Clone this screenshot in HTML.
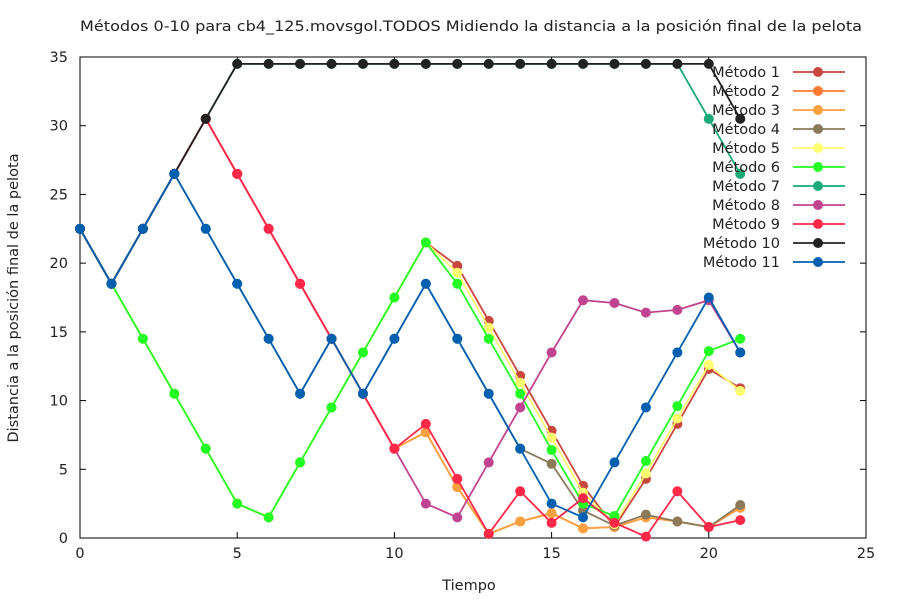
<!DOCTYPE html>
<html><head><meta charset="utf-8"><style>
body{margin:0;background:#fff;}
svg text{font-family:"DejaVu Sans","Liberation Sans",sans-serif;font-size:14.5px;fill:#222;}
</style></head><body>
<svg id="c" width="900" height="600" xmlns="http://www.w3.org/2000/svg">
<text x="471" y="31" text-anchor="middle" textLength="782" lengthAdjust="spacingAndGlyphs">Métodos 0-10 para cb4_125.movsgol.TODOS Midiendo la distancia a la posición final de la pelota</text>
<text x="469" y="590" text-anchor="middle">Tiempo</text>
<text transform="translate(18,298) rotate(-90)" text-anchor="middle">Distancia a la posición final de la pelota</text>
<rect x="80" y="57" width="786" height="481" fill="none" stroke="#000" stroke-width="1"/>
<g id="axes"></g><g id="series"></g><g id="legend"></g>
</svg>
<script>
const xTicks=[0,5,10,15,20,25];
const yTicks=[0,5,10,15,20,25,30,35];
const names=["Método 1","Método 2","Método 3","Método 4","Método 5","Método 6","Método 7","Método 8","Método 9","Método 10","Método 11"];
const colors=["#c8473f","#ff7a30","#ffa040","#8b7a5a","#ffff70","#22ff22","#1aaa78","#c04490","#ff2848","#222222","#0060b0"];
const m1=[22.5,18.5,14.5,10.5,6.5,2.5,1.5,5.5,9.5,13.5,17.5,21.5,19.8,15.8,11.8,7.8,3.8,0.8,4.3,8.3,12.3,10.9];
const m2=[22.5,18.5,22.5,26.5,30.5,26.5,22.5,18.5,14.5,10.5,6.5,7.7,3.7,0.3,1.2,1.8,0.7,0.8,1.5,1.2,0.8,2.2];
const m3=[22.5,18.5,22.5,26.5,30.5,26.5,22.5,18.5,14.5,10.5,6.5,7.7,3.7,0.3,1.2,1.8,0.7,0.8,1.5,1.2,0.8,2.2];
const m4=[22.5,18.5,22.5,26.5,22.5,18.5,14.5,10.5,14.5,10.5,14.5,18.5,14.5,10.5,6.5,5.4,2.0,0.9,1.7,1.2,0.8,2.4];
const m5=[22.5,18.5,14.5,10.5,6.5,2.5,1.5,5.5,9.5,13.5,17.5,21.5,19.3,15.3,11.3,7.3,3.3,1.0,4.7,8.7,12.6,10.7];
const m6=[22.5,18.5,14.5,10.5,6.5,2.5,1.5,5.5,9.5,13.5,17.5,21.5,18.5,14.5,10.5,6.4,2.5,1.6,5.6,9.6,13.6,14.5];
const m7=[22.5,18.5,22.5,26.5,30.5,34.5,34.5,34.5,34.5,34.5,34.5,34.5,34.5,34.5,34.5,34.5,34.5,34.5,34.5,34.5,30.5,26.5];
const m8=[22.5,18.5,22.5,26.5,30.5,26.5,22.5,18.5,14.5,10.5,6.5,2.5,1.5,5.5,9.5,13.5,17.3,17.1,16.4,16.6,17.3,13.5];
const m9=[22.5,18.5,22.5,26.5,30.5,26.5,22.5,18.5,14.5,10.5,6.5,8.3,4.3,0.3,3.4,1.1,2.9,1.1,0.1,3.4,0.8,1.3];
const m10=[22.5,18.5,22.5,26.5,30.5,34.5,34.5,34.5,34.5,34.5,34.5,34.5,34.5,34.5,34.5,34.5,34.5,34.5,34.5,34.5,34.5,30.5];
const m11=[22.5,18.5,22.5,26.5,22.5,18.5,14.5,10.5,14.5,10.5,14.5,18.5,14.5,10.5,6.5,2.5,1.5,5.5,9.5,13.5,17.5,13.5];
const seriesList=[m1,m2,m3,m4,m5,m6,m7,m8,m9,m10,m11];
const X0=80,X1=866,Y0=538,Y1=57;
const sx=v=>X0+(v-0)/(25-0)*(X1-X0);
const sy=v=>Y0-(v-0)/(35-0)*(Y0-Y1);
const NS="http://www.w3.org/2000/svg";
function mk(t,p,a){const e=document.createElementNS(NS,t);for(const k in a)e.setAttribute(k,a[k]);p.appendChild(e);return e;}
const ax=document.getElementById('axes');
xTicks.forEach(t=>{const x=sx(t);
 const l=mk('line',ax,{x1:x,x2:x,y1:Y0,y2:Y0-6,stroke:'#000'});
 
 
 const l2=mk('line',ax,{x1:x,x2:x,y1:Y1,y2:Y1+6,stroke:'#000'});
 
 
 const tx=mk('text',ax,{x:x,y:Y0+20,'text-anchor':'middle'});tx.textContent=t;
 
 
});
yTicks.forEach(t=>{const y=sy(t);
 const l=mk('line',ax,{x1:X0,x2:X0+6,y1:y,y2:y,stroke:'#000'});
 
 
 const l2=mk('line',ax,{x1:X1,x2:X1-6,y1:y,y2:y,stroke:'#000'});
 
 
 const tx=mk('text',ax,{x:X0-12,y:y+5,'text-anchor':'end'});tx.textContent=t;
 
 
});
const sg=document.getElementById('series');
seriesList.forEach((d,i)=>{
 const g=mk('g',sg,{});
 
 
 const pl=mk('polyline',g,{points:d.map((v,j)=>sx(j)+','+sy(v)).join(' '),fill:'none',stroke:colors[i],'stroke-width':1.8});
 
 
 d.forEach((v,j)=>{const c=mk('circle',g,{cx:sx(j),cy:sy(v),r:5,fill:colors[i]});
  
  });
});
const lg=document.getElementById('legend');
names.forEach((n,i)=>{const y=72+i*19;
 const g=mk('g',lg,{});
 
 
 const t=mk('text',g,{x:780,y:y+5,'text-anchor':'end'});t.textContent=n;
 mk('line',g,{x1:793,x2:845,y1:y,y2:y,stroke:colors[i],'stroke-width':1.8});
 mk('circle',g,{cx:818,cy:y,r:5,fill:colors[i]});
});
</script>
</body></html>
